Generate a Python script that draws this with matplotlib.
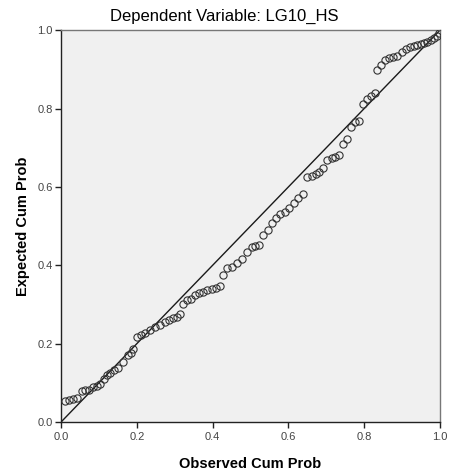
from matplotlib import pyplot as plt

plt.rcParams["font.family"] = ["Liberation Sans", "DejaVu Sans"]

# observed vs expected cumulative probabilities
observed = [
    0.011, 0.021, 0.032, 0.041, 0.055, 0.063, 0.074, 0.085, 0.094, 0.103,
    0.112, 0.121, 0.129, 0.141, 0.151, 0.164, 0.176, 0.185, 0.190, 0.200,
    0.211, 0.222, 0.235, 0.248, 0.261, 0.274, 0.286, 0.296, 0.305, 0.314,
    0.323, 0.332, 0.342, 0.354, 0.365, 0.375, 0.386, 0.398, 0.409, 0.420,
    0.428, 0.439, 0.450, 0.464, 0.477, 0.490, 0.503, 0.512, 0.523, 0.534,
    0.545, 0.556, 0.567, 0.578, 0.591, 0.602, 0.615, 0.626, 0.638, 0.650,
    0.661, 0.672, 0.681, 0.690, 0.703, 0.714, 0.723, 0.734, 0.743, 0.754,
    0.764, 0.776, 0.787, 0.796, 0.807, 0.818, 0.828, 0.835, 0.844, 0.855,
    0.866, 0.877, 0.887, 0.899, 0.910, 0.921, 0.931, 0.940, 0.949, 0.958,
    0.966, 0.975, 0.984, 0.991, 0.996,
]
expected = [
    0.054, 0.056, 0.059, 0.062, 0.079, 0.081, 0.082, 0.089, 0.092, 0.096,
    0.109, 0.120, 0.126, 0.133, 0.137, 0.152, 0.170, 0.177, 0.187, 0.218,
    0.222, 0.226, 0.235, 0.242, 0.247, 0.256, 0.260, 0.265, 0.269, 0.275,
    0.300, 0.311, 0.313, 0.324, 0.328, 0.332, 0.337, 0.339, 0.343, 0.347,
    0.375, 0.392, 0.396, 0.405, 0.417, 0.434, 0.447, 0.449, 0.452, 0.477,
    0.490, 0.507, 0.520, 0.532, 0.536, 0.545, 0.558, 0.571, 0.583, 0.626,
    0.629, 0.632, 0.639, 0.647, 0.668, 0.673, 0.677, 0.681, 0.709, 0.721,
    0.753, 0.766, 0.769, 0.812, 0.825, 0.832, 0.840, 0.898, 0.911, 0.923,
    0.930, 0.932, 0.934, 0.945, 0.951, 0.956, 0.959, 0.962, 0.964, 0.968,
    0.970, 0.974, 0.979, 0.985, 0.993,
]
ticks = [0.0, 0.2, 0.4, 0.6, 0.8, 1.0]
tick_labels = ["0.0", "0.2", "0.4", "0.6", "0.8", "1.0"]

fig = plt.figure(figsize=(4.49, 4.71), dpi=100)
ax = fig.add_axes([0.136, 0.104, 0.844, 0.832])
ax.set_facecolor("#f0f0f0")

ax.plot([0, 1], [0, 1], color="#1a1a1a", linewidth=1.0, zorder=2)
ax.plot(observed, expected, linestyle="none", marker="o", markersize=5.2,
        markerfacecolor="none", markeredgecolor="#333333",
        markeredgewidth=0.8, zorder=3)

ax.set_xlim(0, 1)
ax.set_ylim(0, 1)
ax.set_xticks(ticks)
ax.set_xticklabels(tick_labels)
ax.set_yticks(ticks)
ax.set_yticklabels(tick_labels)
ax.tick_params(direction="out", length=4, width=1, colors="#222222",
               labelsize=8, labelcolor="#444444")
ax.tick_params(axis="x", pad=3)
ax.tick_params(axis="y", pad=2)

for side in ["left", "bottom"]:
    ax.spines[side].set_color("#222222")
    ax.spines[side].set_linewidth(1.0)
for side in ["top", "right"]:
    ax.spines[side].set_color("#777777")
    ax.spines[side].set_linewidth(1.0)

ax.set_xlabel("Observed Cum Prob", fontsize=10.5, fontweight="bold", labelpad=11)
ax.set_ylabel("Expected Cum Prob", fontsize=10.5, fontweight="bold", labelpad=5)
fig.text(0.5, 0.965, "Dependent Variable: LG10_HS", ha="center", va="center",
         fontsize=12)

plt.savefig("out.png", dpi=100)
plt.close()
